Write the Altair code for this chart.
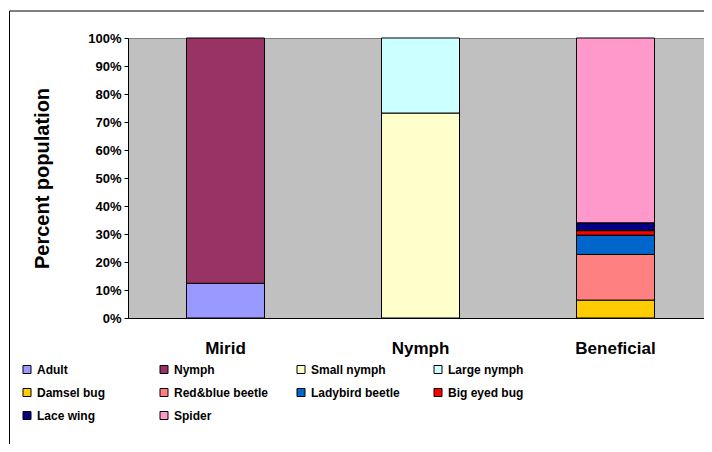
import altair as alt
import pandas as pd

groups = ["Mirid", "Mirid",
          "Nymph", "Nymph",
          "Beneficial", "Beneficial", "Beneficial", "Beneficial", "Beneficial", "Beneficial"]
series = ["Adult", "Nymph",
          "Small nymph", "Large nymph",
          "Damsel bug", "Red&blue beetle", "Ladybird beetle", "Big eyed bug", "Lace wing", "Spider"]
values = [12.4, 87.6,
          73.2, 26.8,
          6.4, 16.3, 6.9, 1.6, 2.8, 66.0]
colors = ["#9999FF", "#993366", "#FFFFCC", "#CCFFFF", "#FFCC00",
          "#FF8080", "#0066CC", "#FF0000", "#000080", "#FF99CC"]
categories = ["Mirid", "Nymph", "Beneficial"]

df = pd.DataFrame({"group": groups, "series": series, "value": values,
                   "order": list(range(len(series)))})

FONT = "Liberation Sans"

bars = alt.Chart(df).mark_bar(stroke="black", strokeWidth=1).encode(
    x=alt.X("group:N", sort=categories,
            scale=alt.Scale(paddingInner=0.6, paddingOuter=0.3, range=[0, 585]),
            axis=alt.Axis(title=None, labelAngle=0, ticks=False, labelPadding=22,
                          labelFont=FONT, labelFontSize=17, labelFontWeight="bold",
                          labelColor="black", domainColor="black")),
    y=alt.Y("value:Q", stack="normalize",
            scale=alt.Scale(domain=[0, 1]),
            axis=alt.Axis(title="Percent population", format=".0%",
                          values=[i / 10 for i in range(11)], grid=False,
                          tickSize=4, tickColor="black", domainColor="black",
                          labelFont=FONT, labelFontSize=13, labelFontWeight="bold",
                          labelColor="black", labelPadding=3,
                          titleFont=FONT, titleFontSize=20, titleFontWeight="bold",
                          titleColor="black", titleX=-86, titleY=140,
                          titleAlign="center", titleBaseline="middle", titleAngle=-90)),
    color=alt.Color("series:N", sort=series,
                    scale=alt.Scale(domain=series, range=colors),
                    legend=alt.Legend(title=None, orient="none", legendX=-107, legendY=325.5,
                                      direction="horizontal",
                                      columns=4, gridAlign="all", columnPadding=26,
                                      rowPadding=11, symbolType="square", symbolSize=64,
                                      symbolStrokeColor="black", symbolStrokeWidth=1,
                                      symbolOpacity=1,
                                      labelFont=FONT, labelFontSize=12,
                                      labelFontWeight="bold", labelColor="black",
                                      labelOffset=4)),
    order=alt.Order("order:Q"),
)

frame = alt.Chart(alt.Data(values=[{}])).mark_rect(
    fill=None, stroke="black", strokeWidth=1, clip=False
).encode(
    x=alt.value(-118.5), x2=alt.value(700),
    y=alt.value(-27), y2=alt.value(500),
)

chart = alt.layer(frame, bars).properties(
    width=576, height=280,
    padding={"left": 120, "top": 30, "right": 0, "bottom": 126},
    autosize=alt.AutoSizeParams(type="none"),
).configure(
    background="white",
    view=alt.ViewConfig(fill="#C0C0C0", stroke="#808080", strokeWidth=1),
)

chart.save("out.html", embed_options={"renderer": "svg", "actions": False})
